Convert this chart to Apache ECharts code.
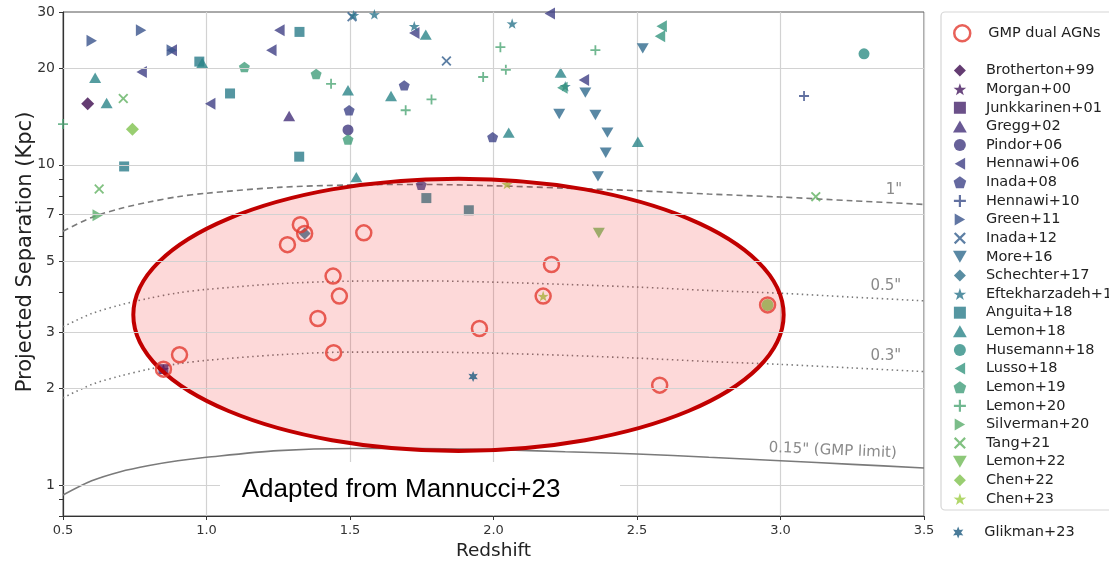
<!DOCTYPE html>
<html>
<head>
<meta charset="utf-8">
<script src="https://cdn.jsdelivr.net/npm/echarts@6/dist/echarts.min.js"></script>
<style>
html, body { margin: 0; padding: 0; background: #fff; }
#chart { width: 1109px; height: 566px; }
</style>
</head>
<body>
<div id="chart"></div>
<script>
// angular-separation curves
var curveZ = [0.5, 0.6, 0.7, 0.8, 0.9, 1.0, 1.25, 1.5, 1.75, 2.0, 2.25, 2.5, 2.75, 3.0, 3.25, 3.5];
var sep1 = [6.2, 6.85, 7.3, 7.65, 7.95, 8.15, 8.5, 8.65, 8.68, 8.6, 8.45, 8.3, 8.1, 7.93, 7.72, 7.52];
var sep05 = [3.12, 3.43, 3.65, 3.83, 3.98, 4.08, 4.25, 4.33, 4.34, 4.3, 4.23, 4.15, 4.05, 3.97, 3.86, 3.76];
var sep03 = [1.87, 2.06, 2.19, 2.3, 2.39, 2.45, 2.55, 2.6, 2.6, 2.58, 2.54, 2.49, 2.43, 2.38, 2.32, 2.26];
var sep015 = [0.93, 1.03, 1.1, 1.15, 1.19, 1.22, 1.28, 1.3, 1.3, 1.29, 1.27, 1.25, 1.22, 1.19, 1.16, 1.13];

// [redshift, projected separation kpc]
var gmpDual = [[1.327, 6.5], [1.342, 6.1], [1.282, 5.63], [1.548, 6.13], [1.441, 4.49], [1.463, 3.89],
  [1.388, 3.31], [0.906, 2.55], [0.85, 2.3], [1.443, 2.59], [2.202, 4.88], [2.173, 3.89],
  [1.951, 3.08], [2.955, 3.65], [2.579, 2.05]];
var brotherton99 = [[0.586, 15.5]];
var morgan00 = [[0.85, 2.3]];
var junkkarinen01 = [[0.85, 2.3]];
var gregg02 = [[1.288, 14.2]];
var pindor06 = [[1.493, 12.85]];
var hennawi06 = [[0.774, 19.5], [0.879, 22.8], [1.013, 15.5], [1.226, 22.8], [1.254, 26.3], [1.724, 25.8], [2.196, 29.7], [2.315, 18.4]];
var inada08 = [[1.497, 14.8], [1.689, 17.7], [1.748, 8.66], [1.997, 12.2]];
var hennawi10 = [[3.082, 16.4]];
var green11 = [[0.6, 24.4], [0.772, 26.3], [0.879, 22.8]];
var inada12 = [[1.507, 29.0], [1.836, 21.1]];
var more16 = [[2.229, 14.4], [2.32, 16.8], [2.355, 14.3], [2.364, 9.2], [2.391, 10.9], [2.397, 12.6], [2.52, 23.1]];
var schechter17 = [[1.342, 6.1]];
var eftekharzadeh17 = [[1.513, 29.3], [1.585, 29.5], [1.724, 27.1], [2.065, 27.6], [2.25, 17.6]];
var anguita18 = [[0.713, 9.88], [0.975, 21.0], [1.082, 16.7], [1.323, 10.6], [1.324, 26.0], [1.766, 7.87], [1.914, 7.21]];
var lemon18 = [[0.612, 18.7], [0.652, 15.6], [0.985, 20.8], [1.493, 17.1], [1.522, 9.15], [1.643, 16.4], [1.764, 25.5], [2.053, 12.6], [2.234, 19.4], [2.503, 11.8]];
var husemann18 = [[3.291, 22.2]];
var lusso18 = [[2.24, 17.4], [2.58, 25.2], [2.586, 27.1]];
var lemon19 = [[1.132, 20.2], [1.382, 19.2], [1.493, 12.0]];
var lemon20 = [[0.5, 13.4], [1.434, 17.9], [1.694, 14.8], [1.784, 16.0], [1.964, 18.8], [2.024, 23.3], [2.043, 19.8], [2.355, 22.8]];
var silverman20 = [[0.621, 6.95]];
var tang21 = [[0.626, 8.4], [0.71, 16.1], [3.123, 7.95]];
var lemon22 = [[2.367, 6.12]];
var chen22 = [[0.742, 12.9]];
var chen23 = [[2.047, 8.7], [2.173, 3.89]];
var glikman23 = [[1.929, 2.18]];
var filledGmp = [[2.955, 3.65]];

var yTickLabels = [1, 2, 3, 5, 7, 10, 20, 30];
var yMinorTicks = [0.8, 0.9, 1, 2, 3, 4, 5, 6, 7, 8, 9, 10, 20, 30];

// highlighted region (centre in data units, half width in z, half height in dex)
var ELL = { cx: 1.878, cy: 3.40, rx: 1.133, ry: 0.425 };

var STAR = 'path://M50,0L61.8,35.1L97.6,34.5L69,56.7L79.4,90.5L50,70L20.6,90.5L31,56.7L2.4,34.5L38.2,35.1Z';
var STAR6 = 'path://M50,0L62,29L93,25L74,50L93,75L62,71L50,100L38,71L7,75L26,50L7,25L38,29Z';
var PENT = 'path://M50,0L97.6,34.5L79.4,90.5L20.6,90.5L2.4,34.5Z';
var PLUS = 'path://M41,0H59V41H100V59H59V100H41V59H0V41H41Z';
var CROSS = 'path://M13,0L50,37L87,0L100,13L63,50L100,87L87,100L50,63L13,100L0,87L37,50L0,13Z';
var TUP = 'path://M50,0L100,87L0,87Z';
var TDOWN = 'path://M0,0L100,0L50,87Z';
var TLEFT = 'path://M87,0L87,100L0,50Z';
var TRIGHT = 'path://M0,0L0,100L87,50Z';
var DIAM = 'path://M50,0L100,50L50,100L0,50Z';
var SQUARE = 'path://M0,0H100V100H0Z';

var refs = [
  ['Brotherton+99', brotherton99, DIAM, '#3d0b4f', 13],
  ['Morgan+00', morgan00, STAR, '#45195f', 11],
  ['Junkkarinen+01', junkkarinen01, SQUARE, '#46246b', 10],
  ['Gregg+02', gregg02, TUP, '#443079', 12],
  ['Pindor+06', pindor06, 'circle', '#41397f', 11],
  ['Hennawi+06', hennawi06, TLEFT, '#3f3f85', 12],
  ['Inada+08', inada08, PENT, '#3f4488', 11],
  ['Hennawi+10', hennawi10, PLUS, '#3b4e8a', 10],
  ['Green+11', green11, TRIGHT, '#3a548c', 12],
  ['Inada+12', inada12, CROSS, '#345f8d', 10],
  ['More+16', more16, TDOWN, '#2f6a8d', 12],
  ['Schechter+17', schechter17, DIAM, '#30708b', 12],
  ['Eftekharzadeh+17', eftekharzadeh17, STAR, '#2c768c', 11],
  ['Anguita+18', anguita18, SQUARE, '#2b7c8a', 10],
  ['Lemon+18', lemon18, TUP, '#2a8588', 12],
  ['Husemann+18', husemann18, 'circle', '#2e8d84', 11],
  ['Lusso+18', lusso18, TLEFT, '#36967f', 12],
  ['Lemon+19', lemon19, PENT, '#419d7b', 11],
  ['Lemon+20', lemon20, PLUS, '#4ea676', 10],
  ['Silverman+20', silverman20, TRIGHT, '#5aad6c', 12],
  ['Tang+21', tang21, CROSS, '#62b262', 10],
  ['Lemon+22', lemon22, TDOWN, '#70ba58', 12],
  ['Chen+22', chen22, DIAM, '#80c24e', 13],
  ['Chen+23', chen23, STAR, '#9dcd45', 11]
];

var FONT = 'DejaVu Sans';
var chart = echarts.init(document.getElementById('chart'));

function curve(vals) {
  return curveZ.map(function (z, i) { return [z, vals[i]]; });
}

function curveSeries(name, vals, type, labelText, labelAt, rot) {
  return {
    name: name, type: 'line', data: curve(vals), smooth: 0.3, showSymbol: false, z: 2,
    silent: true,
    lineStyle: { color: '#7a7a7a', width: 1.6, type: type },
    markPoint: {
      symbol: 'circle', symbolSize: 1, silent: true,
      itemStyle: { color: 'rgba(0,0,0,0)' },
      label: { show: true, position: 'inside', formatter: labelText, color: '#8a8a8a', fontSize: 15, fontFamily: FONT, rotate: rot || 0 },
      data: [{ coord: labelAt }]
    }
  };
}

var series = [
  {
    name: 'grid', type: 'line', data: [], z: 1, silent: true,
    markLine: {
      silent: true, symbol: ['none', 'none'], label: { show: false },
      lineStyle: { color: '#d2d2d2', width: 1.2, type: 'solid' },
      data: yTickLabels.slice(0, -1).map(function (v) { return { yAxis: v }; })
    }
  },
  curveSeries('c1', sep1, [6, 4], '1"', [3.395, 8.36]),
  curveSeries('c05', sep05, [1.5, 3.5], '0.5"', [3.367, 4.17]),
  curveSeries('c03', sep03, [1.5, 3.5], '0.3"', [3.367, 2.52]),
  curveSeries('c015', sep015, 'solid', '0.15" (GMP limit)', [3.182, 1.28], -2.5)
];

refs.forEach(function (r) {
  series.push({
    name: r[0], type: 'scatter', data: r[1], symbol: r[2], symbolSize: r[4],
    symbolKeepAspect: true, z: 2, itemStyle: { color: r[3] }
  });
});
series.push({
  name: 'filled', type: 'scatter', data: filledGmp, symbol: 'circle', symbolSize: 12, z: 2,
  itemStyle: { color: '#80c24e' }
});
series.push({
  name: 'Glikman+23', type: 'scatter', data: glikman23, symbol: STAR6, symbolSize: 11, z: 5,
  symbolKeepAspect: true, itemStyle: { color: '#1d5a80' }
});
series.push({
  name: 'region', type: 'custom', z: 3, silent: true, clip: false,
  data: [[ELL.cx, ELL.cy]],
  renderItem: function (params, api) {
    var c = api.coord([ELL.cx, ELL.cy]);
    var r = api.coord([ELL.cx + ELL.rx, ELL.cy]);
    var t = api.coord([ELL.cx, ELL.cy * Math.pow(10, ELL.ry)]);
    return {
      type: 'ellipse',
      shape: { cx: c[0], cy: c[1], rx: r[0] - c[0], ry: c[1] - t[1] },
      style: { fill: 'rgba(245,30,30,0.17)', stroke: '#c10000', lineWidth: 4 }
    };
  }
});
series.push({
  name: 'GMP dual AGNs', type: 'scatter', data: gmpDual, symbol: 'circle', symbolSize: 15, z: 4,
  itemStyle: { color: 'rgba(0,0,0,0)', borderColor: '#e23a30', borderWidth: 2.5 }
});

var legendBase = {
  orient: 'vertical', left: 953, align: 'left', padding: 0, itemWidth: 42, selectedMode: false,
  textStyle: { fontFamily: FONT, fontSize: 14.5, color: '#222' }
};

var option = {
  animation: false,
  grid: { left: 63, right: 185, top: 12, bottom: 49, show: true, borderColor: '#555', borderWidth: 1, backgroundColor: 'transparent' },
  xAxis: {
    type: 'value', min: 0.5, max: 3.5, interval: 0.5,
    name: 'Redshift', nameLocation: 'middle', nameGap: 26,
    nameTextStyle: { fontFamily: FONT, fontSize: 18.5, color: '#222' },
    axisLine: { lineStyle: { color: '#333', width: 1.2 } },
    axisTick: { length: 4, lineStyle: { color: '#333' } },
    axisLabel: { fontFamily: FONT, fontSize: 13, color: '#333', margin: 8, formatter: function (v) { return v.toFixed(1); } },
    splitLine: { lineStyle: { color: '#d2d2d2', width: 1.2 } }
  },
  yAxis: {
    type: 'log', logBase: 10, min: 0.8, max: 30,
    axisLine: { show: true, lineStyle: { color: '#333', width: 1.2 } },
    axisTick: { show: true, length: 4, lineStyle: { color: '#333' }, customValues: yMinorTicks },
    axisLabel: { fontFamily: FONT, fontSize: 14, color: '#333', margin: 8, customValues: yTickLabels },
    splitLine: { show: false },
    minorTick: { show: false }
  },
  legend: [
    Object.assign({}, legendBase, { top: 24, itemHeight: 16, data: ['GMP dual AGNs'], itemStyle: { borderWidth: 2.5 } }),
    Object.assign({}, legendBase, { top: 63, itemHeight: 12, itemGap: 3.63, data: refs.map(function (r) { return r[0]; }) }),
    Object.assign({}, legendBase, { top: 525, itemHeight: 12, data: ['Glikman+23'] })
  ],
  graphic: [
    { type: 'rect', z: 100, shape: { x: 941, y: 12, width: 200, height: 498, r: 4 }, style: { fill: 'none', stroke: '#d6d6d6', lineWidth: 1.2 } },
    { type: 'rect', z: 100, shape: { x: 220, y: 462, width: 400, height: 53 }, style: { fill: '#ffffff' } },
    { type: 'text', z: 101, x: 401, y: 490, style: { text: 'Adapted from Mannucci+23', fontFamily: 'Liberation Sans', fontSize: 26, fill: '#000', textAlign: 'center', textVerticalAlign: 'middle' } },
    { type: 'text', z: 101, x: 26, y: 252, rotation: Math.PI / 2, style: { text: 'Projected Separation (Kpc)', fontFamily: FONT, fontSize: 21, fill: '#222', textAlign: 'center', textVerticalAlign: 'middle' } }
  ],
  series: series
};

chart.setOption(option);
</script>
</body>
</html>
